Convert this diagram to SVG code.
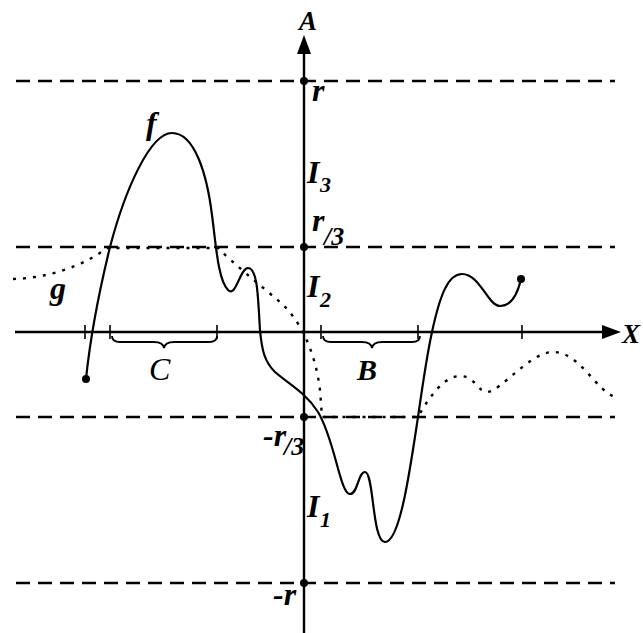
<svg xmlns="http://www.w3.org/2000/svg" width="643" height="633" viewBox="0 0 643 633">
<style>
.ax{stroke:#000;stroke-width:2.4;fill:none}
.dash{stroke:#000;stroke-width:2.4;stroke-dasharray:14 8;fill:none}
.tick{stroke:#000;stroke-width:1.6}
.f{stroke:#000;stroke-width:2.2;fill:none}
.g{stroke:#000;stroke-width:2.4;fill:none;stroke-dasharray:3 7}
.br{stroke:#000;stroke-width:1.8;fill:none}
text{font-family:"Liberation Serif","Times New Roman",serif;font-style:italic;font-weight:bold;fill:#000}
.lab{font-size:32px}
.sub{font-size:22px}
</style>
<rect width="643" height="633" fill="#fff"/>
<g id="levels">
<line class="dash" x1="16" y1="81" x2="615" y2="81"/>
<line class="dash" x1="16" y1="247" x2="615" y2="247"/>
<line class="dash" x1="16" y1="417" x2="615" y2="417"/>
<line class="dash" x1="16" y1="583" x2="615" y2="583"/>
</g>
<g id="axes">
<line class="ax" x1="304" y1="633" x2="304" y2="50"/>
<path d="M304,35 L311,54 L297,54 z" fill="#000"/>
<line class="ax" x1="15" y1="332" x2="606" y2="332"/>
<path d="M621,332 L602,325 L602,339 z" fill="#000"/>
<line class="tick" x1="85" y1="325" x2="85" y2="339"/>
<line class="tick" x1="110" y1="325" x2="110" y2="339"/>
<line class="tick" x1="217" y1="325" x2="217" y2="339"/>
<line class="tick" x1="321" y1="325" x2="321" y2="339"/>
<line class="tick" x1="418" y1="325" x2="418" y2="339"/>
<line class="tick" x1="522" y1="325" x2="522" y2="339"/>
<circle cx="304" cy="81" r="4"/>
<circle cx="304" cy="247" r="4"/>
<circle cx="304" cy="417" r="4"/>
<circle cx="304" cy="583" r="4"/>
</g>
<g id="braces">
<path class="br" d="M112,336 q0,6 8,6 h34 q9,0 10,6 q1,-6 10,-6 h35 q8,0 8,-6"/>
<path class="br" d="M323,336 q0,6 8,6 h31 q9,0 10,6 q1,-6 10,-6 h30 q8,0 8,-6"/>
</g>
<g id="curve-g">
<path class="g" d="M13,279 C50,278 85,265 107,248 L218,248 C235,265 260,285 280,302 C300,320 315,350 320,390 L322,417 L418,417 C430,395 445,376 460,376 C475,376 478,392 487,392 C500,392 530,352 553,352 C580,352 595,390 615,397"/>
</g>
<g id="curve-f">
<path class="f" d="M86,379 C89,350 97,300 110,247 C125,190 150,133 172,133 C195,133 207,175 212,215 C216,245 218,280 228,290 C236,298 240,268 248,268 C258,268 258,300 260,330 C262,352 265,362 275,372 C290,385 305,392 318,412 C335,440 340,494 350,494 C358,494 358,472 365,472 C374,472 372,542 385,542 C400,542 410,470 418,417 C424,375 428,350 432,332 C440,295 448,274 462,274 C480,274 488,306 500,306 C512,306 518,292 521,279"/>
<circle cx="86" cy="379" r="4"/>
<circle cx="521" cy="279" r="4"/>
</g>
<g id="labels">
<text x="299" y="30" style="font-size:27px">A</text>
<text class="lab" x="312" y="101">r</text>
<text class="lab" x="307" y="183">I</text><text class="sub" x="320" y="192">3</text>
<text class="lab" x="312" y="231">r</text><text x="324" y="245" style="font-size:26px">/3</text>
<text class="lab" x="307" y="297">I</text><text class="sub" x="320" y="307">2</text>
<text class="lab" x="263" y="446">-r</text><text x="284" y="455" style="font-size:26px">/3</text>
<text class="lab" x="307" y="517">I</text><text class="sub" x="320" y="527">1</text>
<text class="lab" x="273" y="605">-r</text>
<text class="lab" x="146" y="134">f</text>
<text class="lab" x="50" y="299">g</text>
<text x="149" y="380" style="font-size:32px;font-weight:normal">C</text>
<text x="357" y="380" style="font-size:30px">B</text>
<text x="622" y="343" style="font-size:27px">X</text>
</g>
</svg>
